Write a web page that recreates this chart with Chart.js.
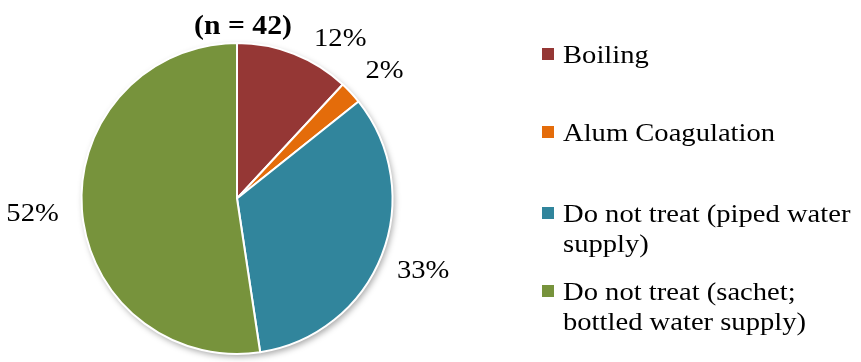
<!DOCTYPE html>
<html>
<head>
<meta charset="utf-8">
<script src="https://cdn.jsdelivr.net/npm/chart.js@4/dist/chart.umd.min.js"></script>
<style>
  html, body { margin: 0; background: #fff; }
  #wrap { width: 861px; height: 362px; position: relative; }
</style>
</head>
<body>
<div id="wrap"><canvas id="pieChart"></canvas></div>
<script>
/* ==================== WATER TREATMENT PIE ==================== */

const categories = [
  ['Boiling'],
  ['Alum Coagulation'],
  ['Do not treat (piped water', 'supply)'],
  ['Do not treat (sachet;', 'bottled water supply)']
];
const counts = [5, 1, 14, 22];
const sampleSize = 42;
const sliceColors = ['#953735', '#e46c0a', '#31859c', '#77933c'];

const SERIF = '"Liberation Serif", "Times New Roman", serif';
const TEXT_STRETCH = 1.1;   // text runs a bit wide in this figure

// where the % labels sit: radius from centre and a small angular nudge (deg)
const labelPlace = [
  { r: 190, nudge: 11.5 },
  { r: 195, nudge: 2 },
  { r: 200, nudge: 0 },
  { r: 205, nudge: 0 }
];

// legend layout (baseline of first line for each entry)
const legendBox = { sqX: 542, textX: 563, size: 12, lineH: 30, baselines: [63, 141, 222, 300] };

function wideText(ctx, txt, x, y) {
  ctx.save();
  ctx.translate(x, y);
  ctx.scale(TEXT_STRETCH, 1);
  ctx.fillText(txt, 0, 0);
  ctx.restore();
}

const pieShadow = {
  id: 'pieShadow',
  beforeDatasetsDraw(chart) {
    const arc = chart.getDatasetMeta(0).data[0];
    if (!arc) return;
    const ctx = chart.ctx;
    ctx.save();
    ctx.shadowColor = 'rgba(0,0,0,0.35)';
    ctx.shadowBlur = 6;
    ctx.shadowOffsetX = 2;
    ctx.shadowOffsetY = 3;
    ctx.fillStyle = '#fff';
    ctx.beginPath();
    ctx.arc(arc.x, arc.y, arc.outerRadius, 0, Math.PI * 2);
    ctx.fill();
    ctx.restore();
  }
};

const pieDecor = {
  id: 'pieDecor',
  afterDraw(chart) {
    const ctx = chart.ctx;
    const meta = chart.getDatasetMeta(0);
    const values = chart.data.datasets[0].data;

    ctx.save();
    ctx.fillStyle = '#000';

    // title
    ctx.font = 'bold 27px ' + SERIF;
    ctx.textAlign = 'center';
    ctx.textBaseline = 'alphabetic';
    wideText(ctx, '(n = ' + sampleSize + ')', meta.data[0].x + 6, 34);

    // percentage labels
    ctx.font = '26px ' + SERIF;
    ctx.textBaseline = 'middle';
    meta.data.forEach((arc, i) => {
      const mid = (arc.startAngle + arc.endAngle) / 2 + labelPlace[i].nudge * Math.PI / 180;
      const x = arc.x + Math.cos(mid) * labelPlace[i].r;
      const y = arc.y + Math.sin(mid) * labelPlace[i].r;
      const pct = Math.round(values[i] / sampleSize * 100);
      wideText(ctx, pct + '%', x, y);
    });

    // legend
    ctx.textAlign = 'left';
    ctx.textBaseline = 'alphabetic';
    chart.data.labels.forEach((lines, i) => {
      const base = legendBox.baselines[i];
      ctx.fillStyle = sliceColors[i];
      ctx.fillRect(legendBox.sqX, base - 15, legendBox.size, legendBox.size);
      ctx.fillStyle = '#000';
      lines.forEach((txt, k) => wideText(ctx, txt, legendBox.textX, base + k * legendBox.lineH));
    });
    ctx.restore();
  }
};

new Chart(document.getElementById('pieChart'), {
  type: 'pie',
  data: {
    labels: categories,
    datasets: [{
      data: counts,
      backgroundColor: sliceColors,
      borderColor: '#fff',
      borderWidth: 2
    }]
  },
  options: {
    responsive: true, maintainAspectRatio: false, animation: false,
    layout: { padding: { left: 80, right: 467, top: 42, bottom: 7 } },
    plugins: { legend: { display: false }, tooltip: { enabled: false }, title: { display: false } }
  },
  plugins: [pieShadow, pieDecor]
});
</script>
</body>
</html>
